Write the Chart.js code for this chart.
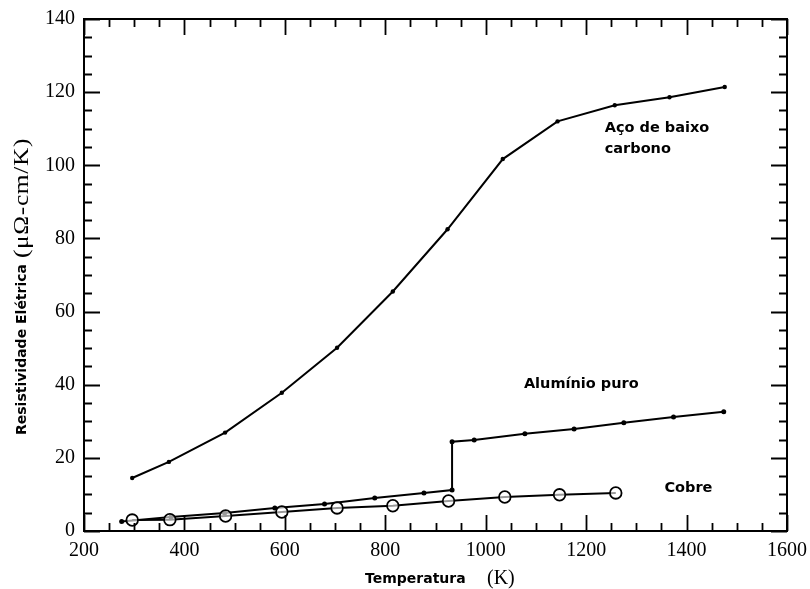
<!DOCTYPE html>
<html>
<head>
<meta charset="utf-8">
<script src="https://cdn.jsdelivr.net/npm/chart.js@4.4.1/dist/chart.umd.min.js"></script>
<style>
  html, body { margin: 0; padding: 0; background: #fff; }
  #wrap { width: 810px; height: 589px; }
</style>
</head>
<body>
<div id="wrap"><canvas id="rhoChart"></canvas></div>
<script>
// Resistividade elétrica x temperatura
const tempSteel = [296, 369, 481, 594, 704, 815, 924, 1034, 1143, 1257, 1366, 1476];
const rhoSteel = [14.5, 18.9, 26.9, 37.8, 50.1, 65.5, 82.5, 101.7, 112.0, 116.4, 118.6, 121.4];

const tempAluminum = [275, 373, 480, 580, 679, 779, 877, 933, 933, 977, 1078, 1176, 1275, 1374, 1474];
const rhoAluminum = [2.6, 3.8, 4.9, 6.3, 7.4, 9.0, 10.4, 11.2, 24.4, 24.9, 26.6, 27.9, 29.6, 31.2, 32.6];

const tempCopper = [296, 371, 482, 594, 704, 815, 926, 1038, 1147, 1259];
const rhoCopper = [3.0, 3.1, 4.1, 5.2, 6.3, 6.9, 8.2, 9.3, 9.9, 10.4];

const xMin = 200, xMax = 1600, xStep = 200, xMinorStep = 50;
const yMin = 0, yMax = 140, yStep = 20, yMinorStep = 5;

// rótulos das curvas: [texto, x, y] em unidades dos dados
const curveLabels = [
    ["Aço de baixo", 1237, 110.2],
    ["carbono", 1237, 104.4],
    ["Alumínio puro", 1076, 40.0],
    ["Cobre", 1356, 11.8]
];

const serif = "'Liberation Serif', 'Times New Roman', serif";
const sans = "'DejaVu Sans', Verdana, sans-serif";

function toPoints(xs, ys) {
    return xs.map((x, i) => ({ x: x, y: ys[i] }));
}

// ----------------------------------------------------------
// Moldura, marcas internas dos eixos, títulos e rótulos
// ----------------------------------------------------------
const framePlugin = {
    id: "frame",
    afterDatasetsDraw(chart) {
        const ctx = chart.ctx;
        const a = chart.chartArea;
        const sx = chart.scales.x;
        const sy = chart.scales.y;

        ctx.save();
        ctx.strokeStyle = "#000";
        ctx.lineWidth = 2;
        ctx.strokeRect(a.left, a.top, a.right - a.left, a.bottom - a.top);

        ctx.lineWidth = 1.8;
        ctx.beginPath();
        for (let v = xMin; v <= xMax; v += xMinorStep) {
            const px = Math.round(sx.getPixelForValue(v)) + 0.5;
            const len = (v % xStep === 0) ? 16 : 8;
            ctx.moveTo(px, a.bottom); ctx.lineTo(px, a.bottom - len);
            ctx.moveTo(px, a.top); ctx.lineTo(px, a.top + len);
        }
        for (let v = yMin; v <= yMax; v += yMinorStep) {
            const py = Math.round(sy.getPixelForValue(v)) + 0.5;
            const len = (v % yStep === 0) ? 16 : 8;
            ctx.moveTo(a.left, py); ctx.lineTo(a.left + len, py);
            ctx.moveTo(a.right, py); ctx.lineTo(a.right - len, py);
        }
        ctx.stroke();

        // rótulos das curvas
        ctx.fillStyle = "#000";
        ctx.font = "bold 14.5px " + sans;
        ctx.textAlign = "left";
        ctx.textBaseline = "middle";
        curveLabels.forEach(([txt, x, y]) => {
            ctx.fillText(txt, sx.getPixelForValue(x), sy.getPixelForValue(y));
        });

        // título do eixo x
        ctx.font = "bold 14px " + sans;
        ctx.fillText("Temperatura", 365, 579);
        ctx.font = "20px " + serif;
        ctx.fillText("(K)", 487, 579);

        // título do eixo y
        ctx.translate(22, 435);
        ctx.rotate(-Math.PI / 2);
        ctx.font = "bold 14px " + sans;
        ctx.fillText("Resistividade Elétrica", 0, 0);
        ctx.font = "21px " + serif;
        ctx.letterSpacing = "0.5px";
        const unit = "(μΩ-cm/K)";
        const w = ctx.measureText(unit).width;
        ctx.translate(177, 0);
        ctx.scale(120 / w, 1);
        ctx.fillText(unit, 0, 0);
        ctx.restore();
    }
};

const ctx = document.getElementById("rhoChart").getContext("2d");

new Chart(ctx, {
    type: "line",
    data: {
        datasets: [
            {
                label: "Cobre",
                data: toPoints(tempCopper, rhoCopper),
                borderColor: "#000",
                backgroundColor: "#fff",
                borderWidth: 2,
                pointRadius: 5.8,
                pointBorderWidth: 1.8,
                pointBackgroundColor: "rgba(255,255,255,0.6)",
                pointBorderColor: "#000",
                tension: 0
            },
            {
                label: "Alumínio puro",
                data: toPoints(tempAluminum, rhoAluminum),
                borderColor: "#000",
                backgroundColor: "#000",
                borderWidth: 2,
                pointRadius: 2.5,
                pointBorderWidth: 0,
                tension: 0
            },
            {
                label: "Aço de baixo carbono",
                data: toPoints(tempSteel, rhoSteel),
                borderColor: "#000",
                backgroundColor: "#000",
                borderWidth: 2,
                pointRadius: 2.2,
                pointBorderWidth: 0,
                tension: 0
            }
        ]
    },
    options: {
        responsive: true,
        maintainAspectRatio: false,
        animation: false,
        layout: { padding: { top: 19, right: 23, left: 0, bottom: 0 } },
        plugins: {
            legend: { display: false },
            tooltip: { enabled: false }
        },
        scales: {
            x: {
                type: "linear",
                min: xMin,
                max: xMax,
                grid: { display: false, drawTicks: false, tickLength: 0 },
                border: { display: false },
                ticks: {
                    stepSize: xStep,
                    padding: 8,
                    color: "#000",
                    font: { family: serif, size: 20 },
                    callback: (v) => String(v)
                },
                afterFit(scale) {
                    scale.height = 58;
                    scale.paddingLeft = 0;
                    scale.paddingRight = 0;
                }
            },
            y: {
                min: yMin,
                max: yMax,
                grid: { display: false, drawTicks: false, tickLength: 0 },
                border: { display: false },
                ticks: {
                    stepSize: yStep,
                    padding: 9,
                    color: "#000",
                    font: { family: serif, size: 20 },
                    callback: (v) => String(v)
                },
                afterFit(scale) {
                    scale.width = 84;
                    scale.paddingTop = 0;
                    scale.paddingBottom = 0;
                }
            }
        }
    },
    plugins: [framePlugin]
});
</script>
</body>
</html>
